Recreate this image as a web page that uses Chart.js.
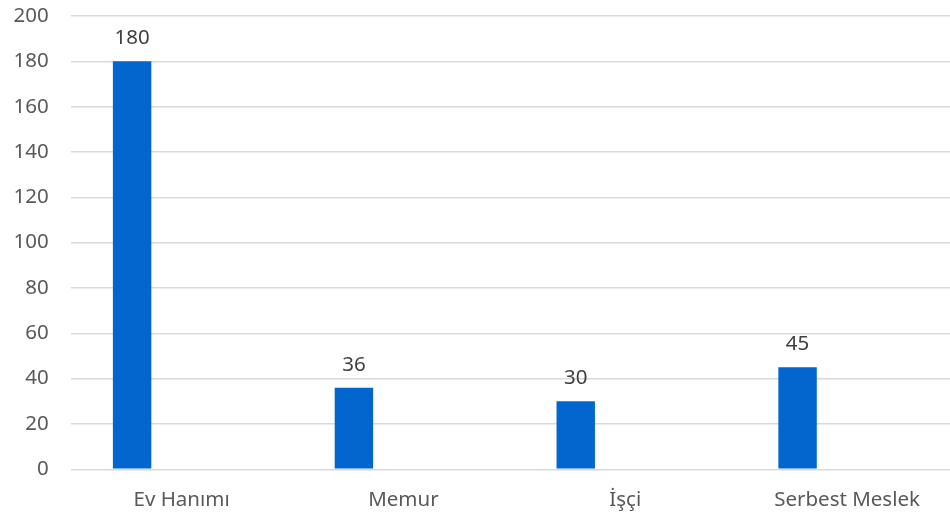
<!DOCTYPE html>
<html>
<head>
<meta charset="utf-8">
<script src="https://cdn.jsdelivr.net/npm/chart.js@4.4.1/dist/chart.umd.min.js"></script>
<style>
  html, body { margin: 0; padding: 0; background: #fff; overflow: hidden; }
  #wrap { width: 950px; height: 518px; overflow: hidden; }
</style>
</head>
<body>
<div id="wrap">
  <canvas id="meslek-chart" width="958" height="518"></canvas>
</div>
<script>
// meslek dağılımı
const categories = ['Ev Hanımı', 'Memur', 'İşçi', 'Serbest Meslek'].map(s => s.normalize('NFC'));
const counts = [180, 36, 30, 45];
const emptySeries = [null, null, null, null];
const yTicks = [0, 20, 40, 60, 80, 100, 120, 140, 160, 180, 200];

const textFont = { family: "'Noto Sans', 'Open Sans', sans-serif", size: 20.5 };

// değerleri çubukların üstüne yaz
const valueLabels = {
    id: 'valueLabels',
    afterDatasetsDraw(chart) {
        const ctx = chart.ctx;
        const meta = chart.getDatasetMeta(0);
        ctx.save();
        ctx.font = textFont.size + 'px ' + textFont.family;
        ctx.fillStyle = '#404040';
        ctx.textAlign = 'center';
        ctx.textBaseline = 'middle';
        meta.data.forEach((bar, i) => {
            ctx.fillText(counts[i], bar.x, bar.y - 23);
        });
        ctx.restore();
    }
};

const ctx = document.getElementById('meslek-chart').getContext('2d');
new Chart(ctx, {
    type: 'bar',
    data: {
        labels: categories,
        datasets: [{
            label: 'Seri 1',
            data: counts,
            backgroundColor: '#0366ce',
            categoryPercentage: 0.893,
            barPercentage: 0.388
        }, {
            label: 'Seri 2',
            data: emptySeries,
            backgroundColor: '#ed7d31',
            categoryPercentage: 0.893,
            barPercentage: 0.388
        }]
    },
    options: {
        responsive: false,
        animation: false,
        layout: { padding: 0 },
        plugins: {
            legend: { display: false },
            tooltip: { enabled: false }
        },
        scales: {
            x: {
                grid: { display: false, drawTicks: false },
                border: { display: false },
                ticks: { color: '#595959', font: textFont, padding: 19, maxRotation: 0 },
                afterFit(scale) { scale.height = 48.7; }
            },
            y: {
                min: 0,
                max: 200,
                afterBuildTicks(scale) { scale.ticks = yTicks.map(v => ({ value: v })); },
                grid: { color: '#d9d9d9', lineWidth: 1.5, drawTicks: false },
                border: { display: false },
                ticks: { color: '#595959', font: textFont, padding: 22 },
                afterFit(scale) {
                    scale.width = 70.7;
                    scale.paddingTop = 16;
                }
            }
        }
    },
    plugins: [valueLabels]
});
</script>
</body>
</html>
